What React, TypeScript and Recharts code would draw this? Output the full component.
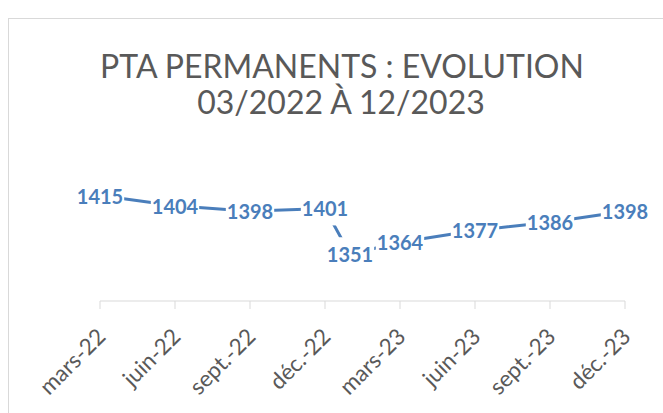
import { Line, LineChart, XAxis, YAxis, LabelList } from "recharts"

const monthIndex = [0, 3, 6, 9, 10, 12, 15, 18, 21]
const effectifs = [1415, 1404, 1398, 1401, 1351, 1364, 1377, 1386, 1398]
const tickMonths = [0, 3, 6, 9, 12, 15, 18, 21]
const tickLabels = ["mars-22", "juin-22", "sept.-22", "déc.-22", "mars-23", "juin-23", "sept.-23", "déc.-23"]
const titleLines = ["PTA PERMANENTS : EVOLUTION", "03/2022 À 12/2023"]

const rows = monthIndex.map((m, i) => ({ m, v: effectifs[i] }))

const BLUE = "#4a7ebb"
const GREY = "#595959"
const FONT = "Lato, 'Open Sans', sans-serif"

function MonthTick({ x, y, payload }: { x?: number; y?: number; payload?: { value: number } }) {
  const i = tickMonths.indexOf(payload?.value ?? -1)
  const px = (x ?? 0) + 7
  const py = (y ?? 0) + 27
  return (
    <text x={px} y={py} transform={`rotate(-45, ${px}, ${py})`} textAnchor="end" fill={GREY} fontSize={22.5} fontFamily={FONT}>
      {tickLabels[i]}
    </text>
  )
}

function ValueLabel(props: any) {
  const { x, y, value } = props
  const w = String(value).length * 11.6
  return (
    <g>
      <rect x={x - w / 2 - 1} y={y - 17} width={w + 2} height={34} fill="#fff" />
      <text x={x} y={y + 8} textAnchor="middle" fill={BLUE} fontSize={20} fontWeight={700} fontFamily={FONT}>
        {value}
      </text>
    </g>
  )
}

export default function App() {
  return (
    <div style={{ position: "fixed", left: 0, top: 0, width: 663, height: 413, background: "#fff", overflow: "hidden" }}>
      <div style={{ position: "absolute", left: 8, top: 18, width: 700, height: 500, borderLeft: "1px solid #d9d9d9", borderTop: "1px solid #d9d9d9" }} />
      <svg style={{ position: "absolute", left: 0, top: 0 }} width={663} height={140}>
        <text x={342} y={78} textAnchor="middle" fill={GREY} fontSize={32} fontFamily={FONT}>{titleLines[0]}</text>
        <text x={341} y={114} textAnchor="middle" fill={GREY} fontSize={32} fontFamily={FONT}>{titleLines[1]}</text>
      </svg>
      <div style={{ position: "absolute", left: 0, top: 0 }}>
        <LineChart width={663} height={413} data={rows} margin={{ top: 191, right: 38, left: 100, bottom: 32 }}>
          <XAxis
            type="number"
            dataKey="m"
            domain={[0, 21]}
            ticks={tickMonths}
            interval={0}
            height={80}
            tickSize={8}
            stroke="#d9d9d9"
            tick={<MonthTick />}
          />
          <YAxis hide domain={[1300, 1420]} />
          <Line type="linear" dataKey="v" stroke={BLUE} strokeWidth={3} strokeLinecap="round" dot={false} isAnimationActive={false}>
            <LabelList dataKey="v" content={<ValueLabel />} />
          </Line>
        </LineChart>
      </div>
    </div>
  )
}
